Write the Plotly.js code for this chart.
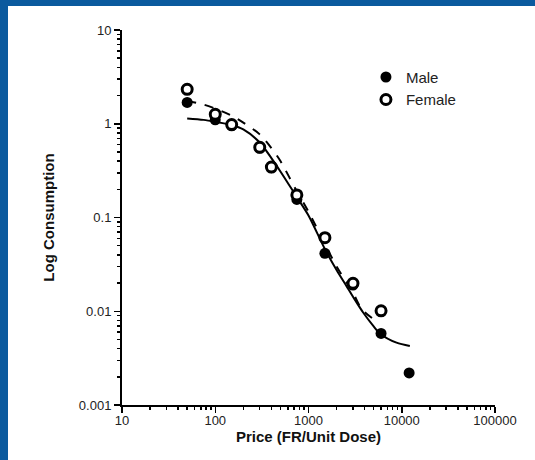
<!DOCTYPE html>
<html>
<head>
<meta charset="utf-8">
<script src="https://cdn.plot.ly/plotly-3.0.1.min.js"></script>
<style>
html,body{margin:0;padding:0;background:#0b5a9e;width:535px;height:460px;overflow:hidden;}
#chart{position:absolute;left:8px;top:6px;width:527px;height:454px;background:#fff;}
</style>
</head>
<body>
<div id="chart"></div>
<script>
// Data
const price = [50, 100, 150, 300, 400, 750, 1500, 3000, 6000, 12000];
const maleConsumption = [1.69, 1.1, 0.95, 0.55, 0.34, 0.156, 0.0415, 0.019, 0.0058, 0.0022];
const femalePrice = [50, 100, 150, 300, 400, 750, 1500, 3000, 6000];
const femaleConsumption = [2.33, 1.26, 0.98, 0.56, 0.345, 0.174, 0.061, 0.0199, 0.0101];

// Fitted curves
const maleFitPrice = [50, 75, 100, 150, 200, 300, 400, 500, 750, 1000, 1500, 2000, 2558, 3000, 3854, 5000, 5821, 8790, 12210];
const maleFitConsumption = [1.14, 1.1, 1.05, 0.97, 0.87, 0.63, 0.43, 0.31, 0.165, 0.105, 0.046, 0.0275, 0.0185, 0.0143, 0.0097, 0.0069, 0.0058, 0.00462, 0.00426];
const femaleFitPrice = [50, 75, 100, 150, 200, 300, 400, 500, 750, 1000, 1500, 2000, 3000, 3710, 4940, 5500];
const femaleFitConsumption = [1.75, 1.6, 1.45, 1.22, 1.03, 0.77, 0.55, 0.40, 0.19, 0.115, 0.052, 0.03, 0.0158, 0.0106, 0.0083, 0.0078];

const yTickVals = [0.001, 0.01, 0.1, 1, 10];
const yTickText = ['0.001', '0.01', '0.1', '1', '10'];
const xTickVals = [10, 100, 1000, 10000, 100000];
const xTickText = ['10', '100', '1000', '10000', '100000'];

function minorVals(lo, hi) {
  const v = [];
  for (let d = lo; d < hi; d++) {
    for (let m = 2; m <= 9; m++) v.push(m * Math.pow(10, d));
  }
  return v;
}

const font = 'Liberation Sans, Arial, sans-serif';

const traces = [
  {x: maleFitPrice, y: maleFitConsumption, mode: 'lines', line: {color: '#000', width: 2, shape: 'spline', smoothing: 0.8}, showlegend: false, hoverinfo: 'skip'},
  {x: femaleFitPrice, y: femaleFitConsumption, mode: 'lines', line: {color: '#000', width: 2, dash: 'dash', shape: 'spline', smoothing: 0.8}, showlegend: false, hoverinfo: 'skip'},
  {x: price, y: maleConsumption, mode: 'markers', name: 'Male', legendgroup: 'm',
   marker: {symbol: 'circle', size: 11, color: '#000'}},
  {x: femalePrice, y: femaleConsumption, mode: 'markers', name: 'Female', legendgroup: 'f',
   marker: {symbol: 'circle', size: 10, color: '#fff', line: {width: 3, color: '#000'}}}
];

const layout = {
  width: 527, height: 454,
  margin: {l: 114, r: 40, t: 24, b: 55},
  paper_bgcolor: '#fff', plot_bgcolor: '#fff',
  font: {family: font, color: '#222', size: 13},
  showlegend: true,
  legend: {x: 0.654, y: 0.918, xanchor: 'left', yanchor: 'top', font: {size: 15, color: '#222'},
           bgcolor: 'rgba(0,0,0,0)', tracegroupgap: 0},
  xaxis: {
    type: 'log', range: [1, 5],
    tickmode: 'array', tickvals: xTickVals, ticktext: xTickText,
    ticks: 'outside', ticklen: 6, tickwidth: 1.5, tickcolor: '#000', ticklabelstandoff: -4,
    minor: {ticks: 'outside', ticklen: 3, tickwidth: 1.5, tickcolor: '#000', tickmode: 'array', tickvals: minorVals(1, 5)},
    showline: true, linecolor: '#000', linewidth: 2, showgrid: false, zeroline: false,
    tickfont: {size: 13, color: '#222'},
    title: {text: 'Price (FR/Unit Dose)', font: {size: 15, color: '#111', weight: 'bold'}, standoff: 3}
  },
  yaxis: {
    type: 'log', range: [-3, 1],
    tickmode: 'array', tickvals: yTickVals, ticktext: yTickText,
    ticks: 'outside', ticklen: 6, tickwidth: 1.5, tickcolor: '#000',
    minor: {ticks: 'outside', ticklen: 3, tickwidth: 1.5, tickcolor: '#000', tickmode: 'array', tickvals: minorVals(-3, 1)},
    showline: true, linecolor: '#000', linewidth: 2, showgrid: false, zeroline: false,
    tickfont: {size: 13, color: '#222'},
    title: {text: 'Log Consumption', font: {size: 15, color: '#111', weight: 'bold'}, standoff: 21}
  }
};

Plotly.newPlot('chart', traces, layout, {staticPlot: true, displayModeBar: false});
</script>
</body>
</html>
